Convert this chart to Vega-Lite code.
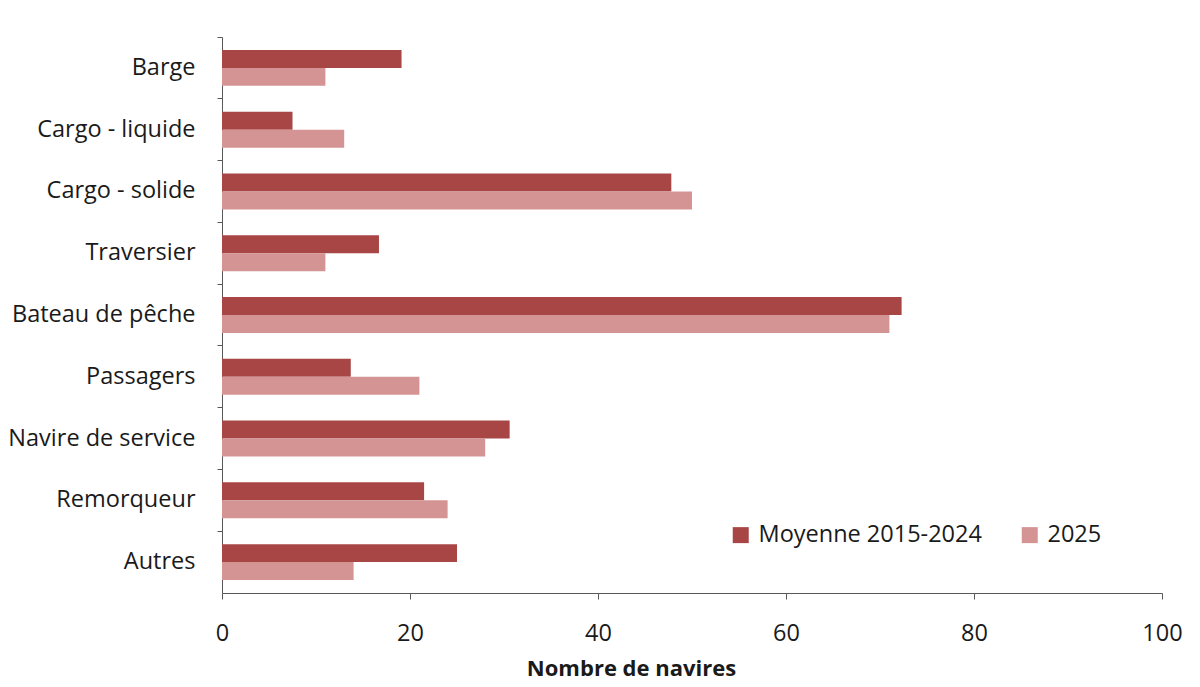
{
  "$schema": "https://vega.github.io/schema/vega-lite/v6.json",
  "width": 940,
  "height": 556,
  "autosize": {"type": "none"},
  "padding": {"left": 222, "top": 37, "right": 38, "bottom": 94},
  "background": "white",
  "config": {
    "view": {"stroke": null},
    "font": "Open Sans"
  },
  "data": {
    "values": [
      {"type": "Barge", "serie": "Moyenne 2015-2024", "n": 19.1},
      {"type": "Barge", "serie": "2025", "n": 11},
      {"type": "Cargo - liquide", "serie": "Moyenne 2015-2024", "n": 7.5},
      {"type": "Cargo - liquide", "serie": "2025", "n": 13},
      {"type": "Cargo - solide", "serie": "Moyenne 2015-2024", "n": 47.8},
      {"type": "Cargo - solide", "serie": "2025", "n": 50},
      {"type": "Traversier", "serie": "Moyenne 2015-2024", "n": 16.7},
      {"type": "Traversier", "serie": "2025", "n": 11},
      {"type": "Bateau de pêche", "serie": "Moyenne 2015-2024", "n": 72.3},
      {"type": "Bateau de pêche", "serie": "2025", "n": 71},
      {"type": "Passagers", "serie": "Moyenne 2015-2024", "n": 13.7},
      {"type": "Passagers", "serie": "2025", "n": 21},
      {"type": "Navire de service", "serie": "Moyenne 2015-2024", "n": 30.6},
      {"type": "Navire de service", "serie": "2025", "n": 28},
      {"type": "Remorqueur", "serie": "Moyenne 2015-2024", "n": 21.5},
      {"type": "Remorqueur", "serie": "2025", "n": 24},
      {"type": "Autres", "serie": "Moyenne 2015-2024", "n": 25},
      {"type": "Autres", "serie": "2025", "n": 14}
    ]
  },
  "mark": {"type": "bar"},
  "encoding": {
    "y": {
      "field": "type",
      "type": "nominal",
      "sort": ["Barge", "Cargo - liquide", "Cargo - solide", "Traversier", "Bateau de pêche", "Passagers", "Navire de service", "Remorqueur", "Autres"],
      "scale": {"paddingInner": 0, "paddingOuter": 0},
      "axis": {
        "title": null,
        "bandPosition": 0,
        "labelOffset": 0,
        "labelFontSize": 23.5,
        "labelColor": "#1a1a1a",
        "labelPadding": 22,
        "labelLimit": 300,
        "domainColor": "#595959",
        "tickColor": "#595959",
        "tickSize": 5
      }
    },
    "yOffset": {
      "field": "serie",
      "type": "nominal",
      "sort": ["Moyenne 2015-2024", "2025"],
      "scale": {"paddingInner": 0, "paddingOuter": 0.72}
    },
    "x": {
      "field": "n",
      "type": "quantitative",
      "scale": {"domain": [0, 100], "nice": false},
      "axis": {
        "title": "Nombre de navires",
        "titleFontSize": 22,
        "titleFontWeight": "bold",
        "titleColor": "#1a1a1a",
        "titlePadding": 14,
        "titleX": 409,
        "titleAlign": "center",
        "values": [0, 20, 40, 60, 80, 100],
        "grid": false,
        "labelFlush": false,
        "labelFontSize": 23.5,
        "labelColor": "#1a1a1a",
        "labelPadding": 22,
        "domainColor": "#595959",
        "tickColor": "#595959",
        "tickSize": 6
      }
    },
    "color": {
      "field": "serie",
      "type": "nominal",
      "sort": ["Moyenne 2015-2024", "2025"],
      "scale": {"domain": ["Moyenne 2015-2024", "2025"], "range": ["#A84646", "#D49494"]},
      "legend": {
        "title": null,
        "orient": "none",
        "direction": "horizontal",
        "legendX": 507,
        "legendY": 486,
        "symbolType": "square",
        "symbolSize": 256,
        "symbolOpacity": 1,
        "symbolStrokeWidth": 0,
        "labelFontSize": 23.5,
        "labelColor": "#1a1a1a",
        "labelLimit": 400,
        "columnPadding": 36,
        "labelOffset": 6
      }
    }
  }
}
